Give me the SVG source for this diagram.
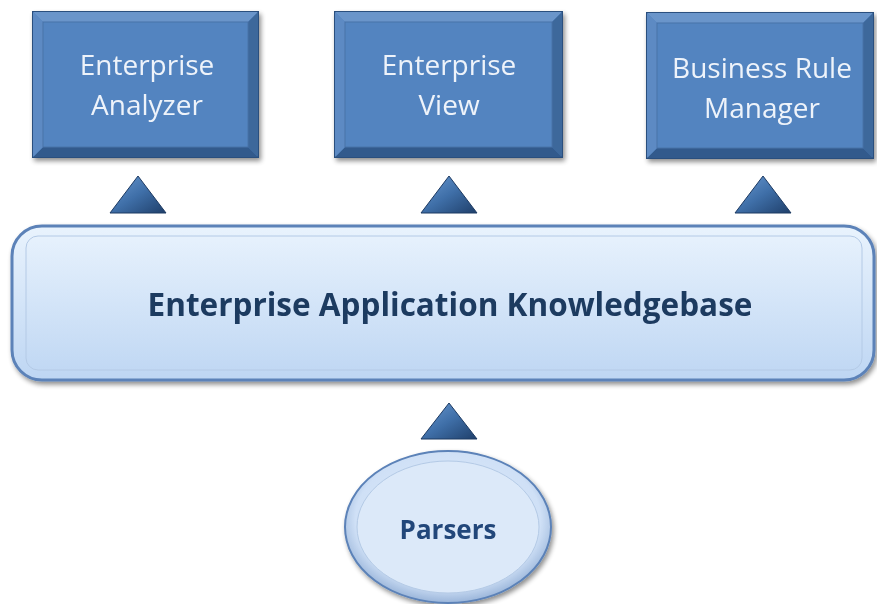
<svg xmlns="http://www.w3.org/2000/svg" width="877" height="604" viewBox="0 0 877 604">
<defs>
<linearGradient id="kb" x1="0" y1="0" x2="0" y2="1">
<stop offset="0" stop-color="#e9f3fd"/>
<stop offset="1" stop-color="#bed6f3"/>
</linearGradient>
<radialGradient id="el" cx="0.5" cy="0.45" r="0.6">
<stop offset="0" stop-color="#e4effc"/>
<stop offset="0.75" stop-color="#cfe0f6"/>
<stop offset="1" stop-color="#7f9fcb"/>
</radialGradient>
<linearGradient id="tri" x1="0" y1="0" x2="1" y2="1">
<stop offset="0" stop-color="#6b9ad2"/>
<stop offset="0.5" stop-color="#3f6fa8"/>
<stop offset="1" stop-color="#1f3f6a"/>
</linearGradient>
<filter id="sh" x="-10%" y="-10%" width="130%" height="130%">
<feGaussianBlur in="SourceAlpha" stdDeviation="2.5"/>
<feOffset dx="2" dy="3"/>
<feComponentTransfer><feFuncA type="linear" slope="0.45"/></feComponentTransfer>
<feMerge><feMergeNode/><feMergeNode in="SourceGraphic"/></feMerge>
</filter>
</defs>
<style>
.box{fill:#4f81bd;stroke:#2a4f7e;stroke-width:2}
.inner{fill:#5384c0;stroke:#4872a8;stroke-width:1}
.bt{font-family:"Open Sans","Liberation Sans",sans-serif;font-size:28px;fill:#eef3fa;text-anchor:middle}
.tri{fill:url(#tri);stroke:#1d3a62;stroke-width:1}
</style>
<rect width="877" height="604" fill="#ffffff"/>
<g id="analyzer" filter="url(#sh)">
<rect class="box" x="33" y="12" width="225" height="145"/>
<polygon points="33,12 258,12 248,22 43,22" fill="#6a95ca"/>
<polygon points="258,12 258,157 248,147 248,22" fill="#3d679b"/>
<polygon points="33,157 258,157 248,147 43,147" fill="#335a8c"/>
<polygon points="33,12 43,22 43,147 33,157" fill="#5d8ac3"/>
<rect class="inner" x="43" y="22" width="205" height="125"/>
<text class="bt" x="147" y="75">Enterprise</text>
<text class="bt" x="147" y="115">Analyzer</text>
</g>
<g id="view" filter="url(#sh)">
<rect class="box" x="335" y="12" width="227" height="145"/>
<polygon points="335,12 562,12 552,22 345,22" fill="#6a95ca"/>
<polygon points="562,12 562,157 552,147 552,22" fill="#3d679b"/>
<polygon points="335,157 562,157 552,147 345,147" fill="#335a8c"/>
<polygon points="335,12 345,22 345,147 335,157" fill="#5d8ac3"/>
<rect class="inner" x="345" y="22" width="207" height="125"/>
<text class="bt" x="449" y="75">Enterprise</text>
<text class="bt" x="449" y="115">View</text>
</g>
<g id="brm" filter="url(#sh)">
<rect class="box" x="647" y="13" width="226" height="145"/>
<polygon points="647,13 873,13 863,23 657,23" fill="#6a95ca"/>
<polygon points="873,13 873,158 863,148 863,23" fill="#3d679b"/>
<polygon points="647,158 873,158 863,148 657,148" fill="#335a8c"/>
<polygon points="647,13 657,23 657,148 647,158" fill="#5d8ac3"/>
<rect class="inner" x="657" y="23" width="206" height="125"/>
<text class="bt" x="762" y="78">Business Rule</text>
<text class="bt" x="762" y="118">Manager</text>
</g>
<g id="connectors">
<polygon class="tri" points="138,176 166,213 110,213"/>
<polygon class="tri" points="449,176 477,213 421,213"/>
<polygon class="tri" points="763,176 791,213 735,213"/>
<polygon class="tri" points="449,403 477,439 421,439"/>
</g>
<g id="knowledgebase" filter="url(#sh)">
<rect x="12" y="226" width="862" height="154" rx="30" ry="30" fill="url(#kb)" stroke="#5b82b8" stroke-width="3"/>
<rect x="26" y="236" width="836" height="134" rx="12" ry="12" fill="none" stroke="#b4cae6" stroke-width="1"/>
<text x="450" y="316" font-family="Open Sans, Liberation Sans, sans-serif" font-size="31.5" font-weight="bold" fill="#1f3a60" text-anchor="middle">Enterprise Application Knowledgebase</text>
</g>
<g id="parsers" filter="url(#sh)">
<ellipse cx="448" cy="527" rx="103" ry="76" fill="url(#el)" stroke="#5b82b8" stroke-width="2"/>
<ellipse cx="448" cy="527" rx="91" ry="66" fill="#dce9f9" stroke="#b4cae6" stroke-width="1"/>
<text x="448" y="539" font-family="Open Sans, Liberation Sans, sans-serif" font-size="26" font-weight="bold" fill="#24477a" text-anchor="middle">Parsers</text>
</g>
</svg>
